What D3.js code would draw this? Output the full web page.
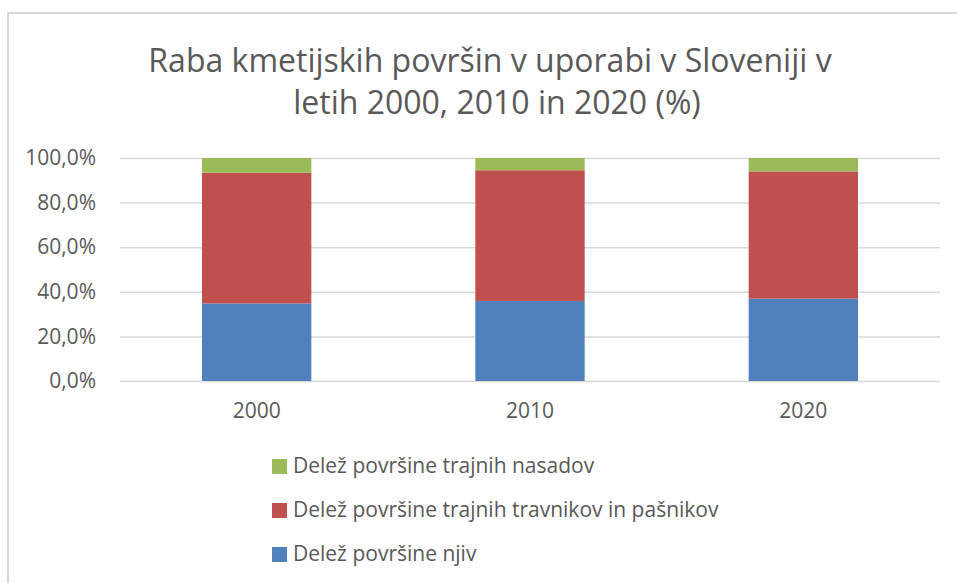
<!DOCTYPE html>
<html>
<head>
<meta charset="utf-8">
<script src="https://cdn.jsdelivr.net/npm/d3@7"></script>
<style>
  body { margin: 0; background: #ffffff; }
  text { font-family: "Open Sans", sans-serif; fill: #595959; }
</style>
</head>
<body>
<div id="chart"></div>
<script>
//data
var years = ['2000', '2010', '2020'];
var njive = [34.8, 35.9, 36.9];
var travniki = [58.6, 58.6, 57.1];
var nasadi = [6.6, 5.5, 6.0];
var yTicks = [0, 20, 40, 60, 80, 100];

var seriesNames = ['Delež površine njiv', 'Delež površine trajnih travnikov in pašnikov', 'Delež površine trajnih nasadov'];
var seriesColors = ['#4F81BD', '#C0504D', '#9BBB59'];

var rows = years.map(function(y, i) {
  return {year: y, s0: njive[i], s1: travniki[i], s2: nasadi[i]};
});

var width = 957;
var height = 583;
var plot = {left: 120, right: 940, top: 158, bottom: 381};

var svg = d3.select('#chart').append('svg')
  .attr('width', width)
  .attr('height', height);

//chart border, only top and left are inside the picture
svg.append('rect')
  .attr('x', 8)
  .attr('y', 13)
  .attr('width', 1000)
  .attr('height', 1000)
  .attr('fill', '#ffffff')
  .attr('stroke', '#d9d9d9')
  .attr('stroke-width', 2);

var x = d3.scaleBand()
  .domain(years)
  .range([plot.left, plot.right])
  .paddingInner(0.6)
  .paddingOuter(0.3);

var y = d3.scaleLinear()
  .domain([0, 100])
  .range([plot.bottom, plot.top]);

//gridlines and y labels
var yAxis = d3.axisLeft(y)
  .tickValues(yTicks)
  .tickSize(-(plot.right - plot.left))
  .tickPadding(24)
  .tickFormat(function(d) { return d3.format('.1f')(d).replace('.', ',') + '%'; });

var yg = svg.append('g')
  .attr('transform', 'translate(' + plot.left + ',0)')
  .call(yAxis);
yg.select('.domain').remove();
yg.selectAll('line').attr('stroke', '#d9d9d9').attr('stroke-width', 1.5);
yg.selectAll('text')
  .style('font-size', '21px')
  .style('font-family', '"Open Sans", sans-serif')
  .attr('fill', '#595959');

//stacked bars
var stack = d3.stack().keys(['s0', 's1', 's2']);
var layers = stack(rows);

svg.append('g').selectAll('g')
  .data(layers)
  .enter().append('g')
  .attr('fill', function(d, i) { return seriesColors[i]; })
  .selectAll('rect')
  .data(function(d) { return d; })
  .enter().append('rect')
  .attr('x', function(d) { return x(d.data.year); })
  .attr('y', function(d) { return y(d[1]); })
  .attr('width', x.bandwidth())
  .attr('height', function(d) { return y(d[0]) - y(d[1]); });

//x labels
var xAxis = d3.axisBottom(x).tickSize(0).tickPadding(22);
var xg = svg.append('g')
  .attr('transform', 'translate(0,' + plot.bottom + ')')
  .call(xAxis);
xg.select('.domain').remove();
xg.selectAll('text')
  .style('font-size', '21px')
  .style('font-family', '"Open Sans", sans-serif')
  .attr('fill', '#595959');

//title
var title = svg.append('text')
  .attr('text-anchor', 'middle')
  .style('font-size', '32px');
title.append('tspan').attr('x', 490).attr('y', 72).text('Raba kmetijskih površin v uporabi v Sloveniji v');
title.append('tspan').attr('x', 497).attr('y', 114).text('letih 2000, 2010 in 2020 (%)');

//legend, top entry is the top series
var legendOrder = [2, 1, 0];
var legend = svg.append('g').selectAll('g')
  .data(legendOrder)
  .enter().append('g')
  .attr('transform', function(d, i) { return 'translate(272,' + (473 + i * 44) + ')'; });

legend.append('rect')
  .attr('x', 0)
  .attr('y', -14)
  .attr('width', 15)
  .attr('height', 15)
  .attr('fill', function(d) { return seriesColors[d]; });

legend.append('text')
  .attr('x', 21)
  .attr('y', 0)
  .style('font-size', '21px')
  .text(function(d) { return seriesNames[d]; });
</script>
</body>
</html>
